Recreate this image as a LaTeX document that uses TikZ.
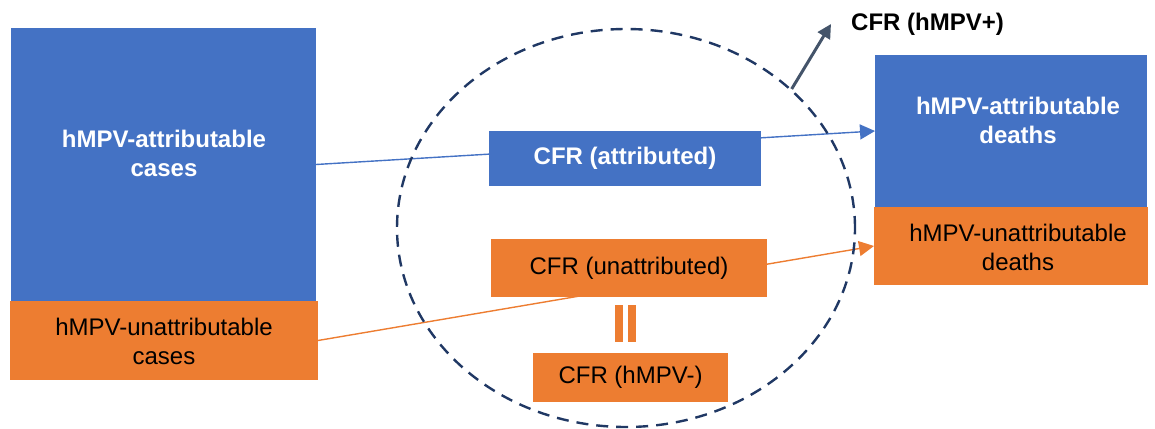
\documentclass[tikz,border=0pt]{standalone}
\usepackage{fontspec}
\setmainfont{Liberation Sans}
\usetikzlibrary{shapes.geometric,arrows.meta}
\definecolor{cblue}{HTML}{4472C4}
\definecolor{corange}{HTML}{ED7D31}
\definecolor{cnavy}{HTML}{203864}
\definecolor{cslate}{HTML}{44546A}

\begin{document}
\begin{tikzpicture}[x=1pt,y=-1pt,
  bluebox/.style={rectangle, fill=cblue, inner sep=0pt, outer sep=0pt},
  orangebox/.style={rectangle, fill=corange, inner sep=0pt, outer sep=0pt},
  bigfont/.style={font=\fontsize{24}{29}\selectfont},
  whitetxt/.style={bigfont, text=white, align=center, inner sep=0pt, font=\fontsize{24}{29}\selectfont\bfseries},
  blacktxt/.style={bigfont, text=black, align=center, inner sep=0pt},
  flow/.style={line width=1.4pt, -{Triangle[length=15pt, width=15pt]}},
]
\useasboundingbox (0,0) rectangle (1155,428);

% case boxes (left) and death boxes (right)
\node[bluebox, minimum width=305pt, minimum height=273pt] (lb) at (163.5,164.5) {};
\node[orangebox, minimum width=308pt, minimum height=79pt] (lo) at (164,340.5) {};
\node[bluebox, minimum width=272pt, minimum height=152pt] (rb) at (1011,131) {};
\node[orangebox, minimum width=274pt, minimum height=78pt] (ro) at (1011,246) {};

\node[whitetxt] (lbt) at (164,153) {hMPV-attributable\\cases};
\node[blacktxt] (lot) at (164,341.5) {hMPV-unattributable\\cases};
\node[whitetxt] (rbt) at (1018,120) {hMPV-attributable\\deaths};
\node[blacktxt] (rot) at (1018,247.5) {hMPV-unattributable\\deaths};

% flows from cases to deaths
\draw[flow, cblue] (lb.east) -- (rb.west);
\draw[flow, corange] (lo.east) -- (ro.west);

% case fatality ratios
\node[bluebox, minimum width=272pt, minimum height=55pt, whitetxt] (cfra) at (625,158.5) {CFR (attributed)};
\node[orangebox, minimum width=276pt, minimum height=58pt, blacktxt] (cfru) at (629,268) {CFR (unattributed)};
\node[orangebox, minimum width=195pt, minimum height=49pt, blacktxt] (cfrn) at (630.5,377.5) {CFR (hMPV-)};

% equality sign between the two unattributed ratios
\fill[corange] (615,305) rectangle (623,342);
\fill[corange] (628,305) rectangle (636,342);

% dashed grouping ellipse
\node[ellipse, draw=cnavy, line width=2.4pt, dash pattern=on 12pt off 8pt,
      minimum width=458pt, minimum height=398pt, inner sep=0pt] (circ) at (626,228) {};

% pointer to the hMPV+ ratio
\node[anchor=base west, inner sep=0pt, font=\fontsize{24}{29}\selectfont\bfseries] (cfrp) at (851,31) {CFR (hMPV+)};
\coordinate (tip) at (831,24);
\draw[cslate, line width=3pt, -{Triangle[length=14pt, width=14pt]}] (circ.40.7) -- (tip);
\end{tikzpicture}
\end{document}
